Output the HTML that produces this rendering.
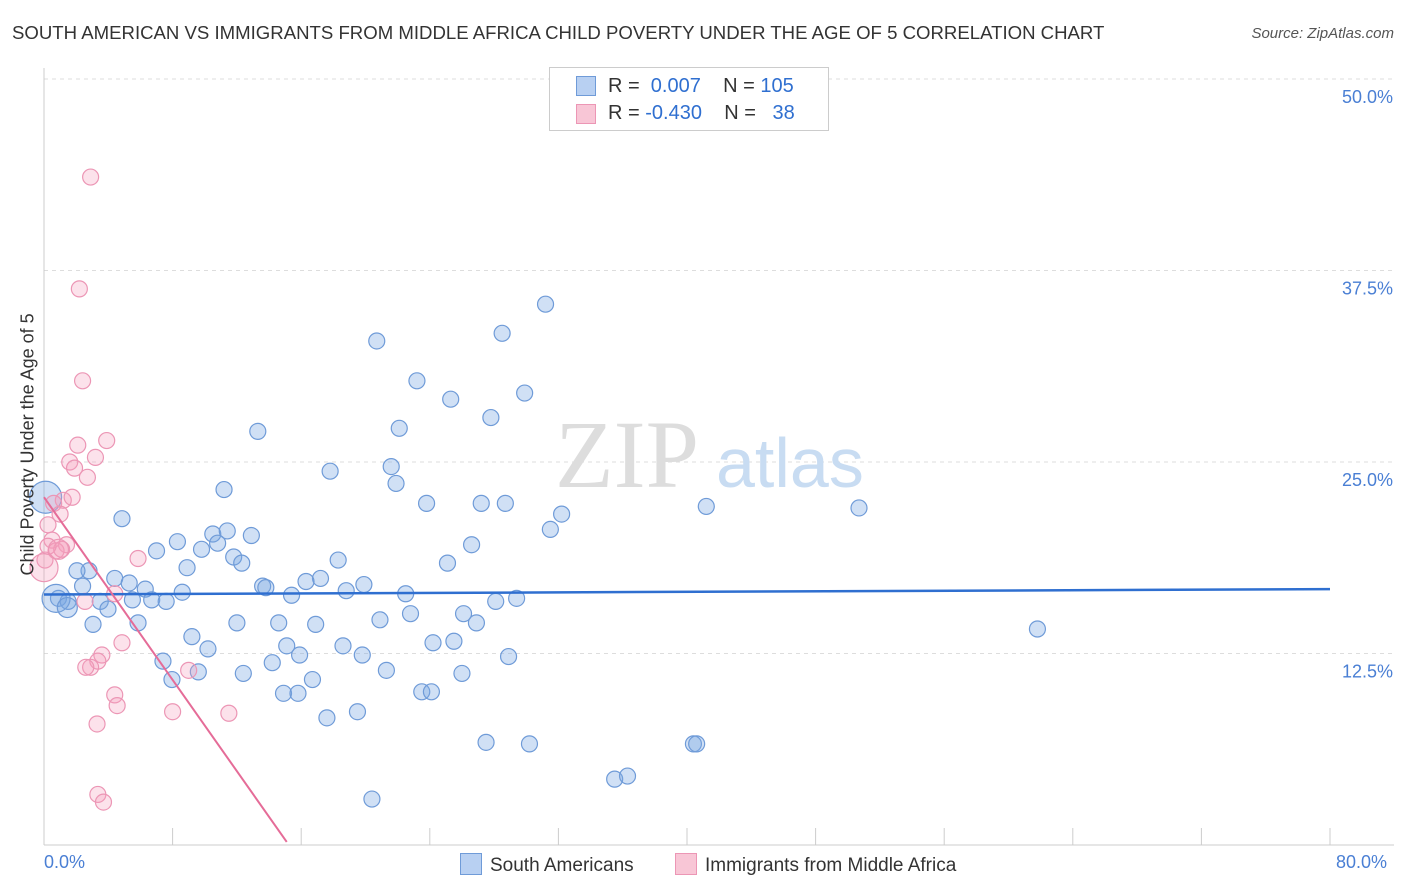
<!DOCTYPE html>
<html><head><meta charset="utf-8"><style>
body{margin:0;background:#fff;font-family:"Liberation Sans",sans-serif;}
#wrap{position:relative;width:1406px;height:892px;overflow:hidden;}
.t{position:absolute;white-space:nowrap;}
</style></head><body>
<div id="wrap">
<div class="t" style="left:12px;top:22px;font-size:18.6px;color:#333;">SOUTH AMERICAN VS IMMIGRANTS FROM MIDDLE AFRICA CHILD POVERTY UNDER THE AGE OF 5 CORRELATION CHART</div>
<div class="t" style="right:12px;top:25px;font-size:15px;color:#555;font-style:italic;">Source: ZipAtlas.com</div>
<svg id="svg" width="1406" height="892" style="position:absolute;left:0;top:0"></svg>
</div>
<script>
const blueX=[31.2,28.5,20.7,23.2,25.3,29.9,27.8,13.3,22.1,17.8,21.6,21.9,11.2,23.8,27.2,28.7,41.2,50.7,4.85,32.2,31.5,10.5,11.4,12.9,8.3,26.6,10.8,9.8,7.0,11.8,12.3,25.1,18.3,8.9,2.8,2.05,4.4,17.2,16.3,19.9,5.3,2.4,13.6,6.3,18.8,22.5,15.4,29.4,28.1,6.7,0.9,1.5,3.5,5.5,7.6,8.6,13.8,22.8,26.1,3.98,12,14.6,16.9,20.9,26.9,5.85,61.8,3.05,9.2,15.1,18.6,24.2,25.5,10.2,15.9,19.8,28.9,7.4,14.2,21.3,26,9.6,12.4,7.96,16.7,14.9,15.8,23.5,24.1,19.5,17.6,27.5,30.2,40.4,40.6,35.5,36.3,20.4,0.1,0.75,1.45];
const blueY=[35.3,33.4,32.9,30.3,29.1,29.5,27.9,27,27.2,24.4,24.7,23.6,23.2,22.3,22.3,22.3,22.1,22,21.3,21.6,20.6,20.3,20.5,20.2,19.8,19.6,19.7,19.3,19.2,18.8,18.4,18.4,18.6,18.1,17.9,17.9,17.4,17.4,17.2,17,17.1,16.9,16.9,16.7,16.6,16.4,16.3,16.1,15.9,16,16.1,15.9,15.9,16,15.9,16.5,16.8,15.1,15.1,15.4,14.5,14.5,14.4,14.7,14.5,14.5,14.1,14.4,13.6,13,13,13.2,13.3,12.8,12.4,12.4,12.3,12,11.9,11.4,11.2,11.3,11.2,10.8,10.8,9.9,9.9,10,10,8.7,8.3,6.7,6.6,6.6,6.6,4.3,4.5,3.0,22.7,16.1,15.5];
const blueR=[8,8,8,8,8,8,8,8,8,8,8,8,8,8,8,8,8,8,8,8,8,8,8,8,8,8,8,8,8,8,8,8,8,8,8,8,8,8,8,8,8,8,8,8,8,8,8,8,8,8,8,8,8,8,8,8,8,8,8,8,8,8,8,8,8,8,8,8,8,8,8,8,8,8,8,8,8,8,8,8,8,8,8,8,8,8,8,8,8,8,8,8,8,8,8,8,8,8,16,14,10];
const pinkX=[2.9,2.2,2.4,3.9,2.1,3.2,1.6,1.9,2.7,1.2,1.75,0.6,1,0.25,0.5,1.4,0.75,1.1,0.06,5.85,4.4,2.55,4.85,3.6,3.35,2.9,2.6,9,4.4,4.55,8,11.5,3.3,3.35,3.7,0.25,0.9,0];
const pinkY=[43.6,36.3,30.3,26.4,26.1,25.3,25,24.6,24,22.5,22.7,22.3,21.6,20.9,19.9,19.6,19.2,19.3,18.6,18.7,16.4,15.9,13.2,12.4,12,11.6,11.6,11.4,9.8,9.1,8.7,8.6,7.9,3.3,2.8,19.5,19.3,18.1];
const pinkR=[8,8,8,8,8,8,8,8,8,8,8,8,8,8,8,8,8,8,8,8,8,8,8,8,8,8,8,8,8,8,8,8,8,8,8,8,10,14];
const yTicks=[12.5,25,37.5,50];
const blueLine=[[0,16.35],[80,16.7]];
const pinkLine=[[0,22.7],[15.1,0.2]];
const X=v=>44+v/80*1286, Y=v=>845-v/50*766;
const s=document.getElementById('svg');const NS='http://www.w3.org/2000/svg';
function mk(t,a,nm){const e=document.createElementNS(NS,t);for(const k in a)e.setAttribute(k,a[k]);


s.appendChild(e);return e;}
yTicks.forEach(v=>{mk('line',{x1:44,x2:1394,y1:Y(v),y2:Y(v),stroke:'#ddd','stroke-dasharray':'4,4'},'gridline');
const t=mk('text',{x:1393,y:Y(v)+24,'text-anchor':'end','font-size':18,fill:'#4a7fd4'},'y-tick-label');t.textContent=v.toFixed(1)+'%';});
mk('line',{x1:44,x2:44,y1:68,y2:845,stroke:'#ccc'},'y-axis');
mk('line',{x1:44,x2:1394,y1:845,y2:845,stroke:'#ccc'},'x-axis');
for(let i=1;i<=10;i++)mk('line',{x1:X(i*8),x2:X(i*8),y1:828,y2:845,stroke:'#ccc'},'x-tick');
const w1=mk('text',{x:555,y:487,'font-size':96,fill:'#ddd','font-family':'Liberation Serif'},'watermark-zip');w1.textContent='ZIP';
const w2=mk('text',{x:716,y:487,'font-size':70,fill:'#c8dcf2'},'watermark-atlas');w2.textContent='atlas';
blueX.forEach((v,i)=>mk('circle',{cx:X(v),cy:Y(blueY[i]),r:blueR[i],fill:'rgba(120,165,225,0.35)',stroke:'#6f9bd8','stroke-width':1.2},'south-american-point'));
pinkX.forEach((v,i)=>mk('circle',{cx:X(v),cy:Y(pinkY[i]),r:pinkR[i],fill:'rgba(245,160,190,0.3)',stroke:'#ec96b5','stroke-width':1.2},'middle-africa-point'));
mk('line',{x1:X(blueLine[0][0]),y1:Y(blueLine[0][1]),x2:X(blueLine[1][0]),y2:Y(blueLine[1][1]),stroke:'#2f6fd0','stroke-width':2.5},'south-american-trendline');
mk('line',{x1:X(pinkLine[0][0]),y1:Y(pinkLine[0][1]),x2:X(pinkLine[1][0]),y2:Y(pinkLine[1][1]),stroke:'#e56c98','stroke-width':2},'middle-africa-trendline');
</script>
<div class="t" style="left:-92px;top:445px;font-size:18px;color:#333;transform:rotate(-90deg);width:240px;text-align:center;">Child Poverty Under the Age of 5</div>
<div class="t" style="left:44px;top:852px;font-size:18px;color:#4a7fd4;">0.0%</div>
<div class="t" style="left:1336px;top:852px;font-size:18px;color:#4a7fd4;">80.0%</div>
<div style="position:absolute;left:549px;top:67px;width:278px;height:62px;border:1px solid #ccc;background:#fff;font-size:20px;color:#333;">
<div style="position:absolute;left:26px;top:8px;width:18px;height:18px;background:#b8d0f2;border:1px solid #6f9bd8;"></div>
<div class="t" style="left:58px;top:7px;">R = <span style="color:#2f6fd0">&nbsp;0.007</span>&nbsp;&nbsp;&nbsp; N = <span style="color:#2f6fd0">105</span></div>
<div style="position:absolute;left:26px;top:36px;width:18px;height:18px;background:#f8c6d6;border:1px solid #ec96b5;"></div>
<div class="t" style="left:58px;top:34px;">R = <span style="color:#2f6fd0">-0.430</span>&nbsp;&nbsp;&nbsp; N = <span style="color:#2f6fd0">&nbsp;&nbsp;38</span></div>
</div>
<div style="position:absolute;left:460px;top:853px;font-size:19px;color:#333;">
<span style="display:inline-block;width:20px;height:20px;background:#b8d0f2;border:1px solid #6f9bd8;vertical-align:-4px;margin-right:8px;"></span>South Americans</div>
<div style="position:absolute;left:675px;top:853px;font-size:19px;color:#333;">
<span style="display:inline-block;width:20px;height:20px;background:#f8c6d6;border:1px solid #ec96b5;vertical-align:-4px;margin-right:8px;"></span>Immigrants from Middle Africa</div>
</body></html>
